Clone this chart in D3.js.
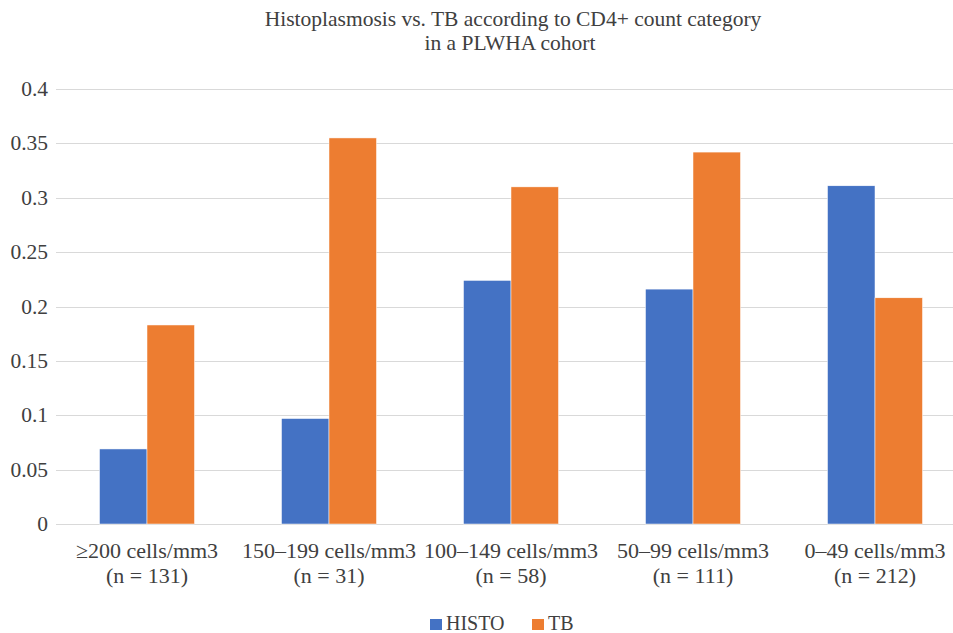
<!DOCTYPE html>
<html>
<head>
<meta charset="utf-8">
<script src="https://cdn.jsdelivr.net/npm/d3@7"></script>
</head>
<body style="margin:0">
<script>
// data
const categories = ["≥200 cells/mm3", "150–199 cells/mm3", "100–149 cells/mm3", "50–99 cells/mm3", "0–49 cells/mm3"];
const counts = ["(n = 131)", "(n = 31)", "(n = 58)", "(n = 111)", "(n = 212)"];
const seriesNames = ["HISTO", "TB"];
const histoValues = [0.069, 0.097, 0.224, 0.216, 0.311];
const tbValues = [0.183, 0.355, 0.310, 0.342, 0.208];
const yTicks = [0, 0.05, 0.1, 0.15, 0.2, 0.25, 0.3, 0.35, 0.4];
const colors = ["#4472C4", "#ED7D31"];

const width = 953, height = 633;
const margin = {top: 89, right: -13, bottom: 109, left: 56};
const FONT = "Liberation Serif";

const svg = d3.select("body").append("svg")
  .attr("width", width)
  .attr("height", height);

function styleText(sel, size) {
  return sel
    .attr("font-family", FONT)
    .style("font-family", "'Liberation Serif', serif")
    .attr("font-size", size)
    .attr("fill", "#404040");
}

// title, two lines
const titleLines = ["Histoplasmosis vs. TB according to CD4+ count category", "in a PLWHA cohort"];
styleText(svg.selectAll(".title")
  .data(titleLines)
  .join("text")
  .attr("class", "title")
  .attr("x", (d, i) => i ? 510 : 513)
  .attr("y", (d, i) => 26 + i * 24)
  .attr("text-anchor", "middle")
  .text(d => d), 21.5);

const x = d3.scaleBand()
  .domain(categories)
  .range([margin.left, width - margin.right])
  .paddingInner(0.478)
  .paddingOuter(0.239);

const xs = d3.scaleBand()
  .domain(seriesNames)
  .range([0, x.bandwidth()]);

const y = d3.scaleLinear()
  .domain([0, 0.4])
  .range([height - margin.bottom, margin.top]);

// gridlines
svg.selectAll(".grid")
  .data(yTicks)
  .join("line")
  .attr("class", "grid")
  .attr("x1", margin.left)
  .attr("x2", width)
  .attr("y1", d => Math.round(y(d)) + 0.5)
  .attr("y2", d => Math.round(y(d)) + 0.5)
  .attr("stroke", "#d9d9d9")
  .attr("stroke-width", 1);

// y tick labels
styleText(svg.selectAll(".ytick")
  .data(yTicks)
  .join("text")
  .attr("class", "ytick")
  .attr("x", 48)
  .attr("y", d => y(d) + 7)
  .attr("text-anchor", "end")
  .text(d => d), 21.5);

// bars
const rows = categories.map((c, i) => ({cat: c, vals: [histoValues[i], tbValues[i]]}));

const groups = svg.selectAll(".grp")
  .data(rows)
  .join("g")
  .attr("class", "grp")
  .attr("transform", d => `translate(${x(d.cat)},0)`);

groups.selectAll("rect")
  .data(d => d.vals.map((v, j) => ({key: seriesNames[j], v: v, j: j})))
  .join("rect")
  .attr("x", d => xs(d.key))
  .attr("width", xs.bandwidth())
  .attr("y", d => y(d.v))
  .attr("height", d => y(0) - y(d.v))
  .attr("fill", d => colors[d.j])
  .attr("stroke", "#fff")
  .attr("stroke-width", 0.5);

// x labels, two lines each
styleText(svg.selectAll(".xcat")
  .data(categories)
  .join("text")
  .attr("class", "xcat")
  .attr("x", d => x(d) + x.bandwidth() / 2)
  .attr("y", 558)
  .attr("text-anchor", "middle")
  .text(d => d), 22);
styleText(svg.selectAll(".xn")
  .data(counts)
  .join("text")
  .attr("class", "xn")
  .attr("x", (d, i) => x(categories[i]) + x.bandwidth() / 2)
  .attr("y", 583)
  .attr("text-anchor", "middle")
  .text(d => d), 22);

// legend
const legendX = [430, 532];
svg.selectAll(".lgbox")
  .data(seriesNames)
  .join("rect")
  .attr("class", "lgbox")
  .attr("x", (d, i) => legendX[i])
  .attr("y", 619)
  .attr("width", 12)
  .attr("height", 11)
  .attr("fill", (d, i) => colors[i]);
styleText(svg.selectAll(".lgtext")
  .data(seriesNames)
  .join("text")
  .attr("class", "lgtext")
  .attr("x", (d, i) => legendX[i] + 16)
  .attr("y", 630)
  .text(d => d), 20);
</script>
</body>
</html>
